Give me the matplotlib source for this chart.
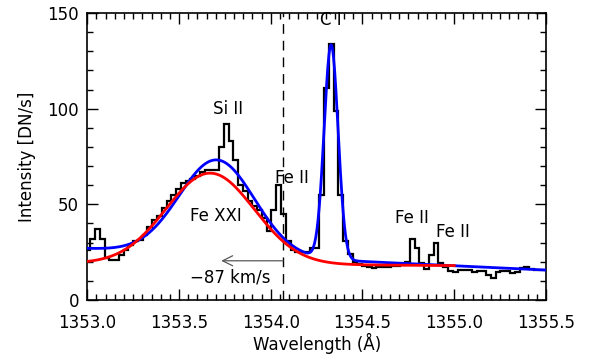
import numpy as np
import matplotlib
matplotlib.use("Agg")
import matplotlib.pyplot as plt
from matplotlib.ticker import MultipleLocator

# ---- data ----
bin_start = 1352.990   # first bin edge (Angstrom)
bin_width = 0.026      # spectral bin width (Angstrom)
intensity = [
    26, 32, 37, 32, 22, 21, 21, 23.5, 26, 28.5,
    31, 31.5, 34, 38, 42, 44, 48, 52, 55, 58,
    61, 62, 63, 65, 67, 68, 68, 68, 80, 92,
    83, 73, 60, 57, 52, 49, 47, 43, 36, 47,
    60, 45, 31, 26, 25, 25, 25, 27, 27, 55,
    111, 134, 99, 55, 31, 24, 20, 19, 18, 17,
    16.5, 17, 17.5, 17, 18, 18, 18.5, 20, 32, 27,
    19.5, 16, 23.5, 30, 19.5, 17, 15, 14.5, 15.5, 15.5,
    15.5, 14.5, 15, 15, 13, 11.5, 14.5, 15, 15, 14,
    14.5, 16.5, 17, 16, 15.5, 15.5, 15.5,
]

# blue fit: Fe XXI + C I gaussians on a linear background
blue_fexxi = [49.5, 1353.706, 0.205]   # amplitude, centre, sigma
blue_ci = [112.0, 1354.329, 0.038]
blue_bg = [26.9, -4.5]                 # value at 1353.0, slope per Angstrom
blue_range = [1353.0, 1355.5]

# red fit: Fe XXI single gaussian on a linear background
red_fexxi = [47.5, 1353.670, 0.24]
red_bg = [19.2, -0.6]
red_range = [1353.0, 1355.0]

rest_wavelength = 1354.067
arrow_end = 1353.73
arrow_level = 20.5

labels = ["Si II", "Fe II", "C I", "Fe II", "Fe II", "Fe XXI", "\u221287 km/s"]
label_x = [1353.77, 1354.115, 1354.33, 1354.77, 1354.995, 1353.70, 1353.78]
label_y = [100, 64, 146.5, 43, 35.5, 44, 12]

xticks = [1353.0, 1353.5, 1354.0, 1354.5, 1355.0, 1355.5]
yticks = [0, 50, 100, 150]

# ---- plot ----
plt.rcParams['font.family'] = ['DejaVu Sans']
fs = 12

fig = plt.figure(figsize=(5.95, 3.58), dpi=100)
ax = fig.add_axes([0.1467, 0.162, 0.7709, 0.8017])

edges = bin_start + bin_width * np.arange(len(intensity) + 1)
ax.stairs(intensity, edges, color='black', lw=1.6, baseline=None, zorder=2)

def gauss(x, p):
    return p[0] * np.exp(-(x - p[1]) ** 2 / (2 * p[2] ** 2))

xb = np.linspace(blue_range[0], blue_range[1], 800)
yb = blue_bg[0] + blue_bg[1] * (xb - 1353.0) + gauss(xb, blue_fexxi) + gauss(xb, blue_ci)
ax.plot(xb, yb, color='#0000ff', lw=2.0, zorder=3)

xr = np.linspace(red_range[0], red_range[1], 800)
yr = red_bg[0] + red_bg[1] * (xr - 1353.0) + gauss(xr, red_fexxi)
ax.plot(xr, yr, color='#ff0000', lw=2.0, zorder=4)

ax.axvline(rest_wavelength, color='black', lw=1.0, ls=(0, (7, 5)), zorder=1)
ax.annotate('', xy=(arrow_end, arrow_level), xytext=(rest_wavelength, arrow_level),
            arrowprops=dict(arrowstyle='->', color='0.35', lw=0.9,
                            mutation_scale=18, shrinkA=0, shrinkB=0))

for t, x, y in zip(labels, label_x, label_y):
    ax.text(x, y, t, ha='center', va='center', fontsize=fs)

ax.set_xlim(1353.0, 1355.5)
ax.set_ylim(0, 150)
ax.set_xticks(xticks)
ax.set_xticklabels([f"{v:.1f}" for v in xticks])
ax.set_yticks(yticks)
ax.xaxis.set_minor_locator(MultipleLocator(0.05))
ax.yaxis.set_minor_locator(MultipleLocator(10))
ax.tick_params(which='both', direction='in', top=True, right=True, labelsize=fs, width=1.0)
ax.tick_params(which='major', length=8)
ax.tick_params(which='minor', length=4)
ax.tick_params(axis='x', which='major', pad=10)
ax.tick_params(axis='y', which='major', pad=6)
for s in ax.spines.values():
    s.set_linewidth(1.2)

ax.set_xlabel('Wavelength (\u00c5)', fontsize=fs, labelpad=1)
ax.set_ylabel('Intensity [DN/s]', fontsize=fs, labelpad=8)

fig.savefig('out.png', dpi=100)
